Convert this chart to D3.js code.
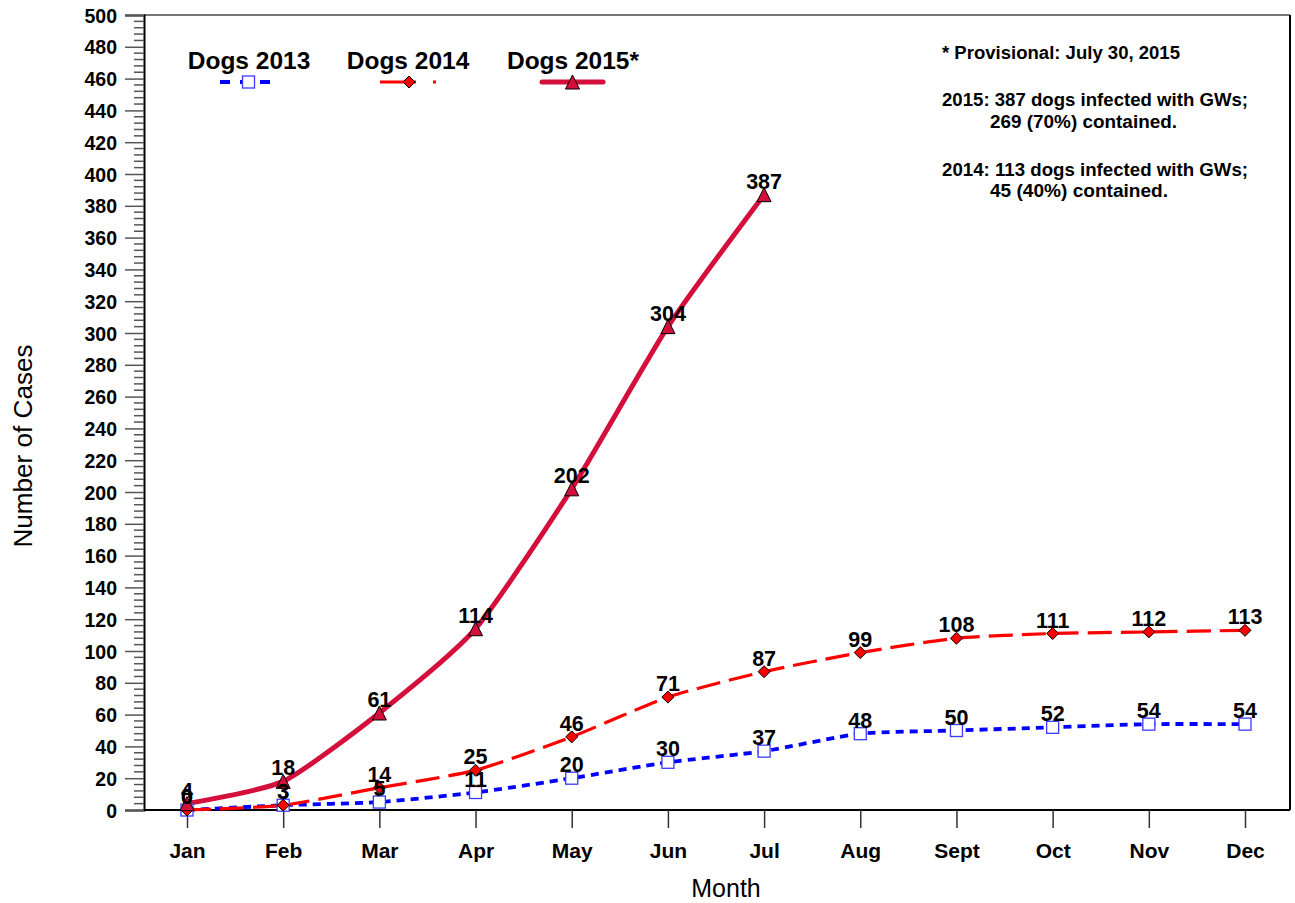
<!DOCTYPE html>
<html>
<head>
<meta charset="utf-8">
<script src="https://cdn.jsdelivr.net/npm/d3@7"></script>
<style>
body{margin:0;background:#fff;}
svg{display:block;font-family:"Liberation Sans",Arial,sans-serif;}
</style>
</head>
<body>
<svg id="chart" width="1295" height="903"></svg>
<script>
const months = ["Jan","Feb","Mar","Apr","May","Jun","Jul","Aug","Sept","Oct","Nov","Dec"];
const dogs2013 = [0,3,5,11,20,30,37,48,50,52,54,54];
const dogs2014 = [0,3,14,25,46,71,87,99,108,111,112,113];
const dogs2015 = [4,18,61,114,202,304,387];
const yTicks = d3.range(0,501,20);
const legendLabels = ["Dogs 2013","Dogs 2014","Dogs 2015*"];
const notes = [
  ["* Provisional: July 30, 2015"],
  ["2015: 387 dogs infected with GWs;","269 (70%) contained."],
  ["2014: 113 dogs infected with GWs;","45 (40%) contained."]
];

const svg = d3.select("#chart");
const L=144, R=1290, T=15, B=810;
const x = d3.scalePoint().domain(months).range([187,1245]);
const y = d3.scaleLinear().domain([0,500]).range([B,T]);

// frame
svg.append("line").attr("x1",L).attr("x2",R).attr("y1",T).attr("y2",T).attr("stroke","#777").attr("stroke-width",2);
svg.append("line").attr("x1",R).attr("x2",R).attr("y1",T).attr("y2",B).attr("stroke","#000").attr("stroke-width",2);

// y axis
const yAxis = d3.axisLeft(y).tickValues(yTicks).tickSize(19).tickPadding(8).tickFormat(d3.format("d"));
const gy = svg.append("g").attr("transform",`translate(${L},0)`).call(yAxis);
gy.select(".domain").attr("stroke","#000").attr("stroke-width",2);
gy.selectAll(".tick line").attr("stroke","#555").attr("stroke-width",1.5);
gy.selectAll(".tick text").attr("font-size",19.5).attr("font-weight","bold").attr("fill","#000").attr("dy","0.36em");
// minor ticks
const minor = d3.range(0,501,4).filter(v=>v%20!==0);
svg.append("g").selectAll("line").data(minor).join("line")
  .attr("x1",L-10).attr("x2",L).attr("y1",d=>y(d)).attr("y2",d=>y(d))
  .attr("stroke","#555").attr("stroke-width",1.5);

// x axis
const xAxis = d3.axisBottom(x).tickSize(18).tickPadding(14);
const gx = svg.append("g").attr("transform",`translate(0,${B})`).call(xAxis);
gx.select(".domain").attr("d",`M${L},0H${R}`).attr("stroke","#000").attr("stroke-width",2);
gx.selectAll(".tick line").attr("stroke","#333").attr("stroke-width",1.5);
gx.selectAll(".tick text").attr("font-size",21).attr("font-weight","bold").attr("fill","#000")
  .attr("y",48).attr("dy","0");

// axis titles
svg.append("text").attr("x",726).attr("y",897).attr("text-anchor","middle").attr("font-size",25).text("Month");
svg.append("text").attr("transform","translate(32,446) rotate(-90)").attr("text-anchor","middle")
  .attr("font-size",25).attr("textLength",203).attr("lengthAdjust","spacingAndGlyphs").text("Number of Cases");

const line = d3.line().x((d,i)=>x(months[i])).y(d=>y(d)).curve(d3.curveCardinal.tension(0.4));

const series = [
  {data:dogs2013,color:"#0000ff",width:3.8,dash:"8,6",marker:"square"},
  {data:dogs2014,color:"#ff0000",width:3.2,dash:"24,9",marker:"diamond"},
  {data:dogs2015,color:"#d50f3c",width:5,dash:null,marker:"triangle"}
];

function drawMarker(g,type,cx,cy){
  if(type==="square"){
    g.append("rect").attr("x",cx-6).attr("y",cy-6).attr("width",12).attr("height",12)
      .attr("fill","#fff").attr("stroke","#3b3bff").attr("stroke-width",1.3);
  } else if(type==="diamond"){
    g.append("path").attr("d",`M${cx},${cy-6}L${cx+6},${cy}L${cx},${cy+6}L${cx-6},${cy}Z`)
      .attr("fill","#ff0000").attr("stroke","#000").attr("stroke-width",1);
  } else {
    g.append("path").attr("d",`M${cx},${cy-7}L${cx+7},${cy+7}L${cx-7},${cy+7}Z`)
      .attr("fill","#d50f3c").attr("stroke","#000").attr("stroke-width",1);
  }
}

series.forEach(s=>{
  const p = svg.append("path").datum(s.data).attr("d",line).attr("fill","none")
    .attr("stroke",s.color).attr("stroke-width",s.width).attr("stroke-linecap",s.dash?"butt":"round");
  if(s.dash) p.attr("stroke-dasharray",s.dash);
});
series.forEach(s=>{
  const g = svg.append("g");
  s.data.forEach((v,i)=>drawMarker(g,s.marker,x(months[i]),y(v)));
});
series.forEach(s=>{
  svg.append("g").selectAll("text").data(s.data).join("text")
    .attr("x",(d,i)=>x(months[i])).attr("y",d=>y(d)-6)
    .attr("text-anchor","middle").attr("font-size",21.5).attr("font-weight","bold").text(d=>d);
});

// legend
const legX = [249,408,573];
const sampleX = [[220,277],[380,438],[542,603]];
series.forEach((s,i)=>{
  svg.append("text").attr("x",legX[i]).attr("y",69).attr("text-anchor","middle")
    .attr("font-size",24.5).attr("font-weight","bold").text(legendLabels[i]);
  const ln = svg.append("line").attr("x1",sampleX[i][0]).attr("x2",sampleX[i][1]).attr("y1",82).attr("y2",82)
    .attr("stroke",s.color).attr("stroke-width",s.width).attr("stroke-linecap",s.dash?"butt":"round");
  if(i===0) ln.attr("stroke-dasharray","10,10");
  if(i===1) ln.attr("stroke-dasharray","36,17,3,10");
  drawMarker(svg.append("g"),s.marker,(sampleX[i][0]+sampleX[i][1])/2,82);
});

// notes
const noteY=[[59],[106,128],[176,197]];
const noteX=[[942],[942,990],[942,990]];
const noteW=[[238],[306,187],[306,178]];
notes.forEach((n,i)=>{
  n.forEach((t,j)=>{
    svg.append("text").attr("x",noteX[i][j]).attr("y",noteY[i][j])
      .attr("font-size",18).attr("font-weight","bold")
      .attr("textLength",noteW[i][j]).attr("lengthAdjust","spacingAndGlyphs").text(t);
  });
});
</script>
</body>
</html>
